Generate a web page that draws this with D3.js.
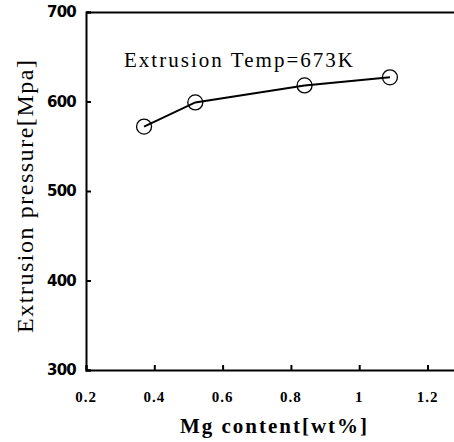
<!DOCTYPE html>
<html>
<head>
<meta charset="utf-8">
<script src="https://cdn.jsdelivr.net/npm/d3@7"></script>
<style>
  body { margin: 0; background: #fff; }
  svg { display: block; }
</style>
</head>
<body>
<div id="chart"></div>
<script>
// values
var mgContent = [0.37, 0.52, 0.84, 1.09];
var pressure = [572, 599, 618, 627];
var xTicks = [0.2, 0.4, 0.6, 0.8, 1, 1.2];
var yTicks = [300, 400, 500, 600, 700];

var width = 454, height = 442;
var margin = {left: 86, top: 12, bottom: 72};

var x = d3.scaleLinear().domain([0.2, 1.3]).range([margin.left, margin.left + 5.5 * 68.3]);
var y = d3.scaleLinear().domain([300, 700]).range([height - margin.bottom, margin.top]);

var svg = d3.select("#chart").append("svg")
    .attr("width", width)
    .attr("height", height);

// frame: left, bottom and top (right side runs off the picture)
svg.append("g")
    .attr("transform", "translate(0," + y(300) + ")")
    .call(d3.axisTop(x).tickValues(xTicks).tickSize(5).tickFormat(""));
svg.append("g")
    .attr("transform", "translate(0," + y(700) + ")")
    .call(d3.axisBottom(x).tickValues([]).tickSizeOuter(0));
svg.append("g")
    .attr("transform", "translate(" + x(0.2) + ",0)")
    .call(d3.axisRight(y).tickValues(yTicks).tickSize(5).tickFormat(""));

svg.selectAll(".domain").attr("stroke", "#000").attr("stroke-width", 2);
svg.selectAll(".tick line").attr("stroke", "#000").attr("stroke-width", 2);

// tick labels
svg.append("g").selectAll("text")
    .data(xTicks)
    .enter().append("text")
    .attr("x", function(d) { return x(d); })
    .attr("y", 402)
    .attr("text-anchor", "middle")
    .style("font-family", "'Liberation Serif', serif")
    .style("font-weight", "bold")
    .style("font-size", "15px")
    .style("letter-spacing", "1px")
    .text(function(d) { return d; });

svg.append("g").selectAll("text")
    .data(yTicks)
    .enter().append("text")
    .attr("x", 76)
    .attr("y", function(d) { return y(d); })
    .attr("dy", "0.36em")
    .attr("text-anchor", "end")
    .style("font-family", "'DejaVu Sans', sans-serif")
    .style("font-weight", "bold")
    .style("font-size", "15px")
    .style("letter-spacing", "-0.8px")
    .text(function(d) { return d; });

// axis titles
svg.append("text")
    .attr("x", 180)
    .attr("y", 433)
    .attr("textLength", 187)
    .attr("lengthAdjust", "spacing")
    .style("font-family", "'Liberation Serif', serif")
    .style("font-weight", "bold")
    .style("font-size", "21px")
    .text("Mg content[wt%]");

svg.append("text")
    .attr("transform", "translate(33,333) rotate(-90)")
    .attr("textLength", 273)
    .attr("lengthAdjust", "spacing")
    .style("font-family", "'Liberation Serif', serif")
    .style("font-size", "24px")
    .text("Extrusion pressure[Mpa]");

// annotation
svg.append("text")
    .attr("x", 124)
    .attr("y", 67)
    .attr("textLength", 229)
    .attr("lengthAdjust", "spacing")
    .style("font-family", "'Liberation Serif', serif")
    .style("font-size", "21px")
    .text("Extrusion Temp=673K");

// data line and markers
var pts = mgContent.map(function(d, i) { return [d, pressure[i]]; });
var line = d3.line()
    .x(function(d) { return x(d[0]); })
    .y(function(d) { return y(d[1]); });

svg.append("path")
    .datum(pts)
    .attr("d", line)
    .attr("fill", "none")
    .attr("stroke", "#000")
    .attr("stroke-width", 2);

svg.selectAll("circle")
    .data(pts)
    .enter().append("circle")
    .attr("cx", function(d) { return x(d[0]); })
    .attr("cy", function(d) { return y(d[1]); })
    .attr("r", 7.5)
    .attr("fill", "none")
    .attr("stroke", "#000")
    .attr("stroke-width", 1.3);
</script>
</body>
</html>
